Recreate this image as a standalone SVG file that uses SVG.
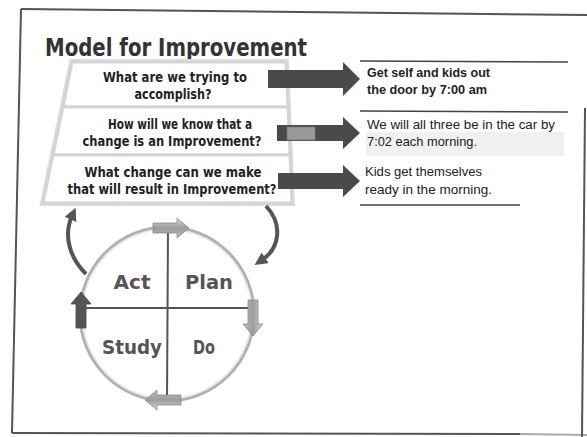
<svg xmlns="http://www.w3.org/2000/svg" width="587" height="437" viewBox="0 0 587 437">
<style>
.frame{fill:none;stroke:#555;stroke-width:2}
.rule{fill:none;stroke:#444;stroke-width:1.5}
.q{font-family:"DejaVu Sans",Verdana,sans-serif;font-weight:bold;font-size:13.5px;fill:#222;text-anchor:middle}
.a{font-family:"Liberation Sans",Arial,sans-serif;font-size:13px;fill:#222}
.ab{font-weight:bold}
.darr{fill:#4a4a4a}
.pdsa{font-family:"DejaVu Sans",Verdana,sans-serif;font-weight:bold;font-size:20px;fill:#555;text-anchor:middle}
.row{fill:#fff;stroke:#d4d4d4;stroke-width:3}
.big{fill:none;stroke:#555;stroke-width:4;marker-end:url(#head)}
.cyc{fill:url(#lg);stroke:#888;stroke-width:0.8}
.cycd{fill:#555;stroke:#444;stroke-width:0.8}
</style>
<defs>
<marker id="head" viewBox="0 0 10 10" refX="3" refY="5" markerWidth="3.2" markerHeight="3.2" orient="auto">
<path d="M0,0 L10,5 L0,10 z" fill="#555"/>
</marker>
<linearGradient id="lg" x1="0" y1="0" x2="0" y2="1">
<stop offset="0" stop-color="#d8d8d8"/>
<stop offset="0.5" stop-color="#9c9c9c"/>
<stop offset="1" stop-color="#bdbdbd"/>
</linearGradient>
<path id="ca" d="M-18,-5 L6,-5 L6,-10 L18,0 L6,10 L6,5 L-18,5 z"/>
</defs>
<rect width="587" height="437" fill="#fff"/>
<g id="frame">
<path class="frame" d="M21,9 L587,15"/>
<path class="frame" d="M21,9 L12,433"/>
<path class="frame" d="M12,433 L520,434"/>
<path d="M520,434 L587,435" fill="none" stroke="#aaa" stroke-width="2"/>
<path class="frame" d="M585,108 L582,437"/>
</g>
<text id="title" x="45" y="56" font-family="'DejaVu Sans',Verdana,sans-serif" font-weight="bold" font-size="24" fill="#333" textLength="262" lengthAdjust="spacingAndGlyphs">Model for Improvement</text>
<g id="funnel">
<polygon points="72,62 286,62 292,203 43,203" fill="#fff" stroke="#dcdcdc" stroke-width="6"/>
<polygon class="row" points="72,62 286,62 288,107 63,107"/>
<polygon class="row" points="63,107 288,107 290,155 53,155"/>
<polygon class="row" points="53,155 290,155 292,203 43,203"/>
</g>
<g id="q1">
<text class="q" x="175" y="82" textLength="144" lengthAdjust="spacingAndGlyphs">What are we trying to</text>
<text class="q" x="173" y="99" textLength="77" lengthAdjust="spacingAndGlyphs">accomplish?</text>
</g>
<g id="q2">
<text class="q" x="180" y="129" textLength="144" lengthAdjust="spacingAndGlyphs">How will we know that a</text>
<text class="q" x="172" y="146" textLength="179" lengthAdjust="spacingAndGlyphs">change is an Improvement?</text>
</g>
<g id="q3">
<text class="q" x="173" y="177" textLength="177" lengthAdjust="spacingAndGlyphs">What change can we make</text>
<text class="q" x="172" y="194" textLength="209" lengthAdjust="spacingAndGlyphs">that will result in Improvement?</text>
</g>
<g id="connectors">
<polygon class="darr" points="268,70 343,70 343,62 360,79 343,96 343,88 268,88"/>
<polygon class="darr" points="277,125 343,125 343,117 360,133 343,149 343,141 277,141"/>
<rect x="287" y="127" width="28" height="13" fill="#9a9a9a" stroke="#777" stroke-width="0.8"/>
<polygon class="darr" points="278,173 343,173 343,165 360,181 343,197 343,189 278,189"/>
<path class="big" d="M86,274 C70,258 63,236 72,216"/>
<path class="big" d="M266,206 C283,224 280,248 262,260"/>
</g>
<g id="a1">
<path class="rule" d="M360,61 L568,62"/>
<text class="a ab" x="367" y="77" textLength="123" lengthAdjust="spacingAndGlyphs">Get self and kids out</text>
<text class="a ab" x="367" y="94" textLength="120" lengthAdjust="spacingAndGlyphs">the door by 7:00 am</text>
</g>
<g id="a2">
<rect x="366" y="132" width="198" height="24" fill="#f0f0f0"/>
<path class="rule" d="M360,111 L568,112"/>
<text class="a" x="367" y="129" textLength="188" lengthAdjust="spacingAndGlyphs">We will all three be in the car by</text>
<text class="a" x="367" y="146" textLength="110" lengthAdjust="spacingAndGlyphs">7:02 each morning.</text>
</g>
<g id="a3">
<text class="a" x="365" y="176" textLength="117" lengthAdjust="spacingAndGlyphs">Kids get themselves</text>
<text class="a" x="365" y="194" textLength="127" lengthAdjust="spacingAndGlyphs">ready in the morning.</text>
<path class="rule" d="M360,205 L520,205"/>
</g>
<g id="pdsa">
<circle cx="167" cy="314" r="87" fill="#fff" stroke="#b0b0b0" stroke-width="3"/>
<circle cx="167" cy="314" r="85" fill="none" stroke="#e4e4e4" stroke-width="1.5"/>
<path d="M168,229 L167,400" stroke="#555" stroke-width="2"/>
<path d="M80,308 L253,308" stroke="#555" stroke-width="2"/>
<use href="#ca" class="cyc" transform="translate(171,228)"/>
<use href="#ca" class="cyc" transform="rotate(90,167,314) translate(171,228)"/>
<use href="#ca" class="cyc" transform="rotate(180,167,314) translate(171,228)"/>
<use href="#ca" class="cycd" transform="rotate(270,167,314) translate(171,228)"/>
</g>
<g id="act"><text class="pdsa" x="132" y="289" textLength="37" lengthAdjust="spacingAndGlyphs">Act</text></g>
<g id="plan"><text class="pdsa" x="209" y="289" textLength="48" lengthAdjust="spacingAndGlyphs">Plan</text></g>
<g id="study"><text class="pdsa" x="132" y="354" textLength="60" lengthAdjust="spacingAndGlyphs">Study</text></g>
<g id="do"><text class="pdsa" x="204" y="354" textLength="22" lengthAdjust="spacingAndGlyphs">Do</text></g>
</svg>
